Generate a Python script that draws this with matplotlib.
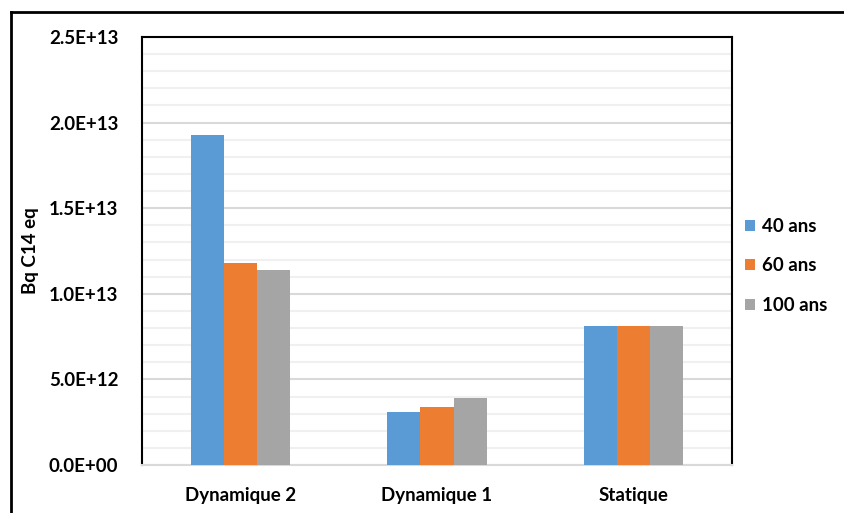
import matplotlib
matplotlib.use('Agg')
from matplotlib import pyplot as plt
from matplotlib.lines import Line2D
import numpy as np

categories = ['Dynamique 2', 'Dynamique 1', 'Statique']
series = ['40 ans', '60 ans', '100 ans']
ans_40 = [1.93e13, 3.1e12, 8.1e12]
ans_60 = [1.18e13, 3.4e12, 8.1e12]
ans_100 = [1.14e13, 3.93e12, 8.1e12]
colors = ['#5B9BD5', '#ED7D31', '#A5A5A5']
yticks = [0, 5e12, 1e13, 1.5e13, 2e13, 2.5e13]
ytick_labels = ['0.0E+00', '5.0E+12', '1.0E+13', '1.5E+13', '2.0E+13', '2.5E+13']

plt.rcParams['font.family'] = ['Lato', 'DejaVu Sans']
plt.rcParams['font.weight'] = 'bold'
fs = 13.5

fig = plt.figure(figsize=(8.45, 5.13), dpi=100)
ax = fig.add_axes([142 / 845, 1 - 465 / 513, 590 / 845, 428 / 513])

x = np.arange(len(categories))
w = 0.168
for i, (vals, name) in enumerate(zip([ans_40, ans_60, ans_100], series)):
    ax.bar(x + (i - 1) * w, vals, w, color=colors[i], label=name, zorder=3)

ax.set_xlim(-0.5, 2.5)
ax.set_ylim(0, 2.5e13)
ax.set_yticks(yticks)
ax.set_yticklabels(ytick_labels, fontsize=fs, fontweight='bold')
ax.set_yticks(np.arange(0, 2.5e13, 1e12), minor=True)
ax.set_xticks(x)
ax.set_xticklabels(categories, fontsize=fs, fontweight='bold')
ax.tick_params(axis='y', length=0, pad=17)
ax.tick_params(axis='x', length=0, pad=16)
ax.tick_params(which='minor', length=0)
ax.grid(axis='y', which='major', color='#D9D9D9', linewidth=1.5, zorder=0)
ax.grid(axis='y', which='minor', color='#F0F0F0', linewidth=1.5, zorder=0)

for s in ['left', 'top', 'right']:
    ax.spines[s].set_color('black')
    ax.spines[s].set_linewidth(1.5)
ax.spines['bottom'].set_color('#D9D9D9')
ax.spines['bottom'].set_linewidth(1.5)

ax.set_ylabel('Bq C14 eq', fontsize=fs, fontweight='bold', labelpad=7)

ax.legend(loc='center left', bbox_to_anchor=(1.0, 0.465), frameon=False,
          borderaxespad=0.3, handlelength=0.55, handleheight=0.55,
          labelspacing=1.2, handletextpad=0.35,
          prop={'weight': 'bold', 'size': fs})

# outer frame (only top and left visible in the crop)
fig.add_artist(Line2D([11 / 845, 1], [1 - 12 / 513, 1 - 12 / 513], color='black', lw=2, transform=fig.transFigure))
fig.add_artist(Line2D([11 / 845, 11 / 845], [0, 1 - 12 / 513], color='black', lw=2, transform=fig.transFigure))

fig.savefig('out.png', dpi=100)
